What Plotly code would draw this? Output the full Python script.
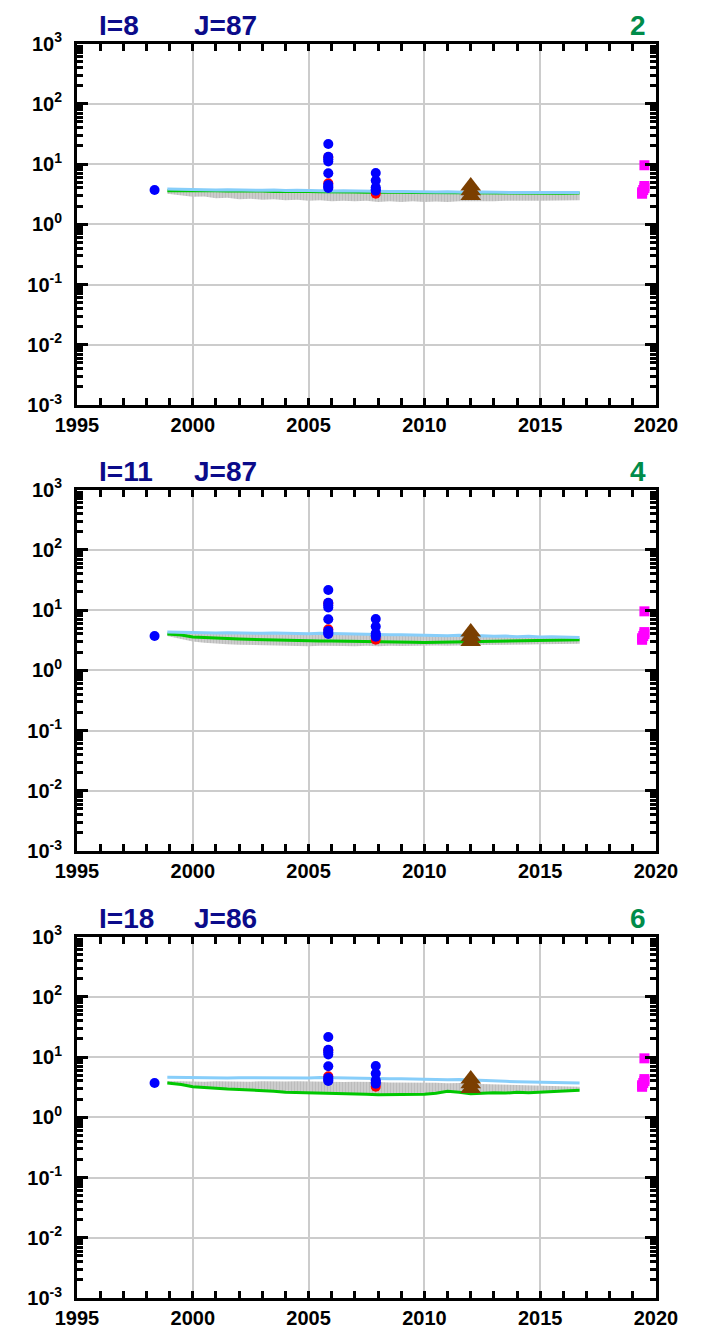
import plotly.graph_objects as go

# ---------------- data ----------------
YEARS = [1998.9, 1999.5, 2000.0, 2000.5, 2001.0, 2001.5, 2002.0, 2002.5, 2003.0,
         2003.5, 2004.0, 2004.5, 2005.0, 2005.5, 2006.0, 2006.5, 2007.0, 2007.5,
         2008.0, 2008.5, 2009.0, 2009.5, 2010.0, 2010.5, 2011.0, 2011.5, 2012.0,
         2012.5, 2013.0, 2013.5, 2014.0, 2014.5, 2015.0, 2015.5, 2016.0, 2016.7]

P1_LIGHTBLUE = [3.85, 3.8, 3.75, 3.8, 3.7, 3.75, 3.7, 3.72, 3.65, 3.7, 3.62, 3.65,
                3.6, 3.62, 3.55, 3.6, 3.55, 3.5, 3.55, 3.48, 3.5, 3.45, 3.45, 3.42,
                3.45, 3.4, 3.38, 3.42, 3.38, 3.4, 3.35, 3.38, 3.35, 3.38, 3.35, 3.35]
P1_GREEN = [3.6, 3.62, 3.6, 3.58, 3.6, 3.55, 3.57, 3.52, 3.55, 3.5, 3.52, 3.48,
            3.5, 3.45, 3.47, 3.42, 3.44, 3.4, 3.42, 3.38, 3.4, 3.36, 3.35, 3.33,
            3.36, 3.32, 3.3, 3.33, 3.3, 3.32, 3.28, 3.3, 3.28, 3.3, 3.28, 3.3]
P1_BAND_LO = [3.2, 3.0, 2.85, 2.9, 2.7, 2.75, 2.6, 2.65, 2.55, 2.6, 2.5, 2.55,
              2.45, 2.5, 2.42, 2.45, 2.4, 2.45, 2.35, 2.4, 2.35, 2.4, 2.35, 2.38,
              2.35, 2.4, 2.38, 2.42, 2.4, 2.45, 2.42, 2.45, 2.45, 2.48, 2.45, 2.5]
P1_BAND_HI = [3.6, 3.6, 3.58, 3.58, 3.56, 3.55, 3.55, 3.52, 3.52, 3.5, 3.5, 3.48,
              3.47, 3.45, 3.45, 3.42, 3.42, 3.4, 3.4, 3.38, 3.38, 3.36, 3.35, 3.33,
              3.33, 3.32, 3.3, 3.31, 3.3, 3.3, 3.28, 3.28, 3.28, 3.28, 3.27, 3.28]

P2_LIGHTBLUE = [4.3, 4.25, 4.2, 4.25, 4.15, 4.2, 4.15, 4.18, 4.1, 4.15, 4.1, 4.12,
                4.05, 4.1, 4.05, 4.0, 4.02, 3.95, 3.95, 3.9, 3.9, 3.85, 3.8, 3.85,
                3.75, 3.8, 3.7, 3.72, 3.65, 3.7, 3.6, 3.65, 3.55, 3.6, 3.55, 3.5]
P2_GREEN = [4.0, 3.85, 3.55, 3.45, 3.4, 3.35, 3.3, 3.25, 3.2, 3.18, 3.15, 3.12,
            3.08, 3.05, 3.05, 3.02, 3.0, 3.0, 2.95, 2.95, 2.92, 2.92, 2.9, 2.92,
            2.9, 2.95, 2.95, 2.98, 3.0, 3.02, 3.05, 3.08, 3.1, 3.12, 3.15, 3.2]
P2_BAND_LO = [3.7, 3.3, 3.0, 2.85, 2.75, 2.7, 2.65, 2.62, 2.6, 2.58, 2.55, 2.55,
              2.5, 2.55, 2.5, 2.52, 2.5, 2.55, 2.5, 2.55, 2.52, 2.55, 2.52, 2.58,
              2.55, 2.6, 2.6, 2.62, 2.62, 2.65, 2.65, 2.68, 2.7, 2.72, 2.72, 2.75]
P2_BAND_HI = [4.2, 4.15, 4.1, 4.12, 4.05, 4.08, 4.02, 4.05, 3.98, 4.0, 3.95, 3.98,
              3.92, 3.95, 3.9, 3.88, 3.88, 3.82, 3.82, 3.78, 3.78, 3.72, 3.7, 3.72,
              3.65, 3.68, 3.6, 3.62, 3.55, 3.58, 3.5, 3.52, 3.45, 3.48, 3.45, 3.4]

P3_LIGHTBLUE = [4.6, 4.55, 4.55, 4.5, 4.55, 4.5, 4.52, 4.5, 4.55, 4.5, 4.52, 4.55,
                4.5, 4.55, 4.5, 4.45, 4.5, 4.4, 4.42, 4.35, 4.35, 4.3, 4.25, 4.28,
                4.2, 4.25, 4.15, 4.1, 4.0, 3.95, 3.9, 3.85, 3.8, 3.8, 3.75, 3.7]
P3_GREEN = [3.7, 3.5, 3.2, 3.1, 3.0, 2.95, 2.9, 2.85, 2.75, 2.7, 2.6, 2.58,
            2.5, 2.48, 2.45, 2.45, 2.42, 2.4, 2.36, 2.38, 2.35, 2.38, 2.4, 2.5,
            2.7, 2.6, 2.45, 2.5, 2.55, 2.52, 2.6, 2.55, 2.6, 2.65, 2.7, 2.8]
P3_BAND_LO = [3.7, 3.5, 3.2, 3.1, 3.0, 2.95, 2.9, 2.85, 2.75, 2.7, 2.6, 2.58,
              2.5, 2.48, 2.45, 2.45, 2.42, 2.4, 2.36, 2.38, 2.35, 2.38, 2.4, 2.5,
              2.7, 2.6, 2.45, 2.5, 2.55, 2.52, 2.6, 2.55, 2.6, 2.65, 2.7, 2.8]
P3_BAND_HI = [4.0, 3.95, 3.95, 3.9, 3.95, 3.9, 3.92, 3.9, 3.95, 3.9, 3.92, 3.95,
              3.9, 3.95, 3.9, 3.85, 3.9, 3.82, 3.84, 3.78, 3.78, 3.74, 3.7, 3.72,
              3.65, 3.7, 3.6, 3.56, 3.48, 3.44, 3.4, 3.35, 3.3, 3.3, 3.26, 3.22]

# observations (same in every panel)
OBS_BLUE_X = [1998.35, 2005.85, 2005.85, 2005.85, 2005.85, 2005.85, 2005.85, 2005.85,
              2005.85, 2007.9, 2007.9, 2007.9, 2007.9, 2007.9]
OBS_BLUE_Y = [3.7, 21.5, 13.2, 12.0, 11.0, 7.0, 4.5, 4.2, 4.0, 7.1, 5.3, 4.1, 3.8, 3.6]
OBS_RED_X = [2005.85, 2005.85, 2007.9]
OBS_RED_Y = [13.0, 4.8, 3.2]
TRI_X = [2012.0, 2012.0, 2012.0]
TRI_Y = [4.3, 3.6, 3.0]
SQ_X = [2019.5, 2019.5, 2019.5, 2019.45, 2019.4, 2019.4]
SQ_Y = [9.5, 4.3, 4.0, 3.7, 3.4, 3.2]

PANEL_I = ["I=8", "I=11", "I=18"]
PANEL_J = ["J=87", "J=87", "J=86"]
PANEL_NUM = ["2", "4", "6"]

PANELS = [
    (P1_LIGHTBLUE, P1_GREEN, P1_BAND_LO, P1_BAND_HI),
    (P2_LIGHTBLUE, P2_GREEN, P2_BAND_LO, P2_BAND_HI),
    (P3_LIGHTBLUE, P3_GREEN, P3_BAND_LO, P3_BAND_HI),
]

Y_TICKVALS = [1e-3, 1e-2, 1e-1, 1, 10, 100, 1000]
Y_TICKTEXT = ["10<sup>-3</sup>", "10<sup>-2</sup>", "10<sup>-1</sup>", "10<sup>0</sup>",
              "10<sup>1</sup>", "10<sup>2</sup>", "10<sup>3</sup>"]
X_TICKVALS = [1995, 2000, 2005, 2010, 2015, 2020]
X_MINOR_TICKS = list(range(1995, 2021))
Y_MINOR_TICKS = [m * 10.0 ** e for e in range(-3, 3) for m in range(2, 10)]

# ---------------- layout geometry (page pixels; page has 8px body margin) ----------------
OFF = 8
W, H = 704 - OFF, 1333 - OFF
LEFT, RIGHT = 77 - OFF, 656 - OFF
TOPS = [t - OFF for t in (43.5, 489.5, 936.5)]
BOTTOMS = [b - OFF for b in (405, 851, 1298)]

FONT = "Liberation Sans, Arial, sans-serif"
TITLE_COLOR = "#0b0b8a"
NUM_COLOR = "#008c4a"

fig = go.Figure()
annotations = []

for k, (lb, gr, lo, hi) in enumerate(PANELS):
    n = "" if k == 0 else str(k + 1)
    xa, ya = "x" + n, "y" + n
    fig.add_trace(go.Scatter(x=YEARS, y=lo, mode="lines", line=dict(width=0, color="#c4c4c4"),
                             xaxis=xa, yaxis=ya, showlegend=False, hoverinfo="skip"))
    fig.add_trace(go.Scatter(x=YEARS, y=hi, mode="lines", line=dict(width=0, color="#c4c4c4"),
                             fill="tonexty", fillcolor="#c4c4c4",
                             fillpattern=dict(shape="|", fgcolor="#ababab", bgcolor="#cdcdcd",
                                              size=3, solidity=0.4),
                             xaxis=xa, yaxis=ya, showlegend=False, hoverinfo="skip"))
    fig.add_trace(go.Scatter(x=YEARS, y=gr, mode="lines", line=dict(width=3, color="#00c800"),
                             xaxis=xa, yaxis=ya, showlegend=False))
    fig.add_trace(go.Scatter(x=YEARS, y=lb, mode="lines", line=dict(width=3, color="#87cefa"),
                             xaxis=xa, yaxis=ya, showlegend=False))
    fig.add_trace(go.Scatter(x=OBS_RED_X, y=OBS_RED_Y, mode="markers",
                             marker=dict(size=10, color="#ff0000", symbol="circle"),
                             xaxis=xa, yaxis=ya, showlegend=False))
    fig.add_trace(go.Scatter(x=OBS_BLUE_X, y=OBS_BLUE_Y, mode="markers",
                             marker=dict(size=10, color="#0000ff", symbol="circle"),
                             xaxis=xa, yaxis=ya, showlegend=False))
    fig.add_trace(go.Scatter(x=TRI_X, y=TRI_Y, mode="markers",
                             marker=dict(size=18, color="#7b3f00", symbol="triangle-up"),
                             xaxis=xa, yaxis=ya, showlegend=False))
    fig.add_trace(go.Scatter(x=SQ_X, y=SQ_Y, mode="markers",
                             marker=dict(size=10, color="#ff00ff", symbol="square"),
                             xaxis=xa, yaxis=ya, showlegend=False))

    ydom = [1 - BOTTOMS[k] / H, 1 - TOPS[k] / H]
    tickfont = dict(family=FONT, size=20, color="black", weight="bold")
    xaxis = dict(domain=[0, 1], range=[1995, 2020], anchor=ya,
                 tickvals=X_TICKVALS, ticktext=[str(v) for v in X_TICKVALS],
                 ticks="inside", ticklen=7, tickwidth=3, tickcolor="black",
                 showline=True, linewidth=3, linecolor="black", mirror="ticks",
                 showgrid=True, gridcolor="#cccccc", gridwidth=2, zeroline=False,
                 tickfont=tickfont, automargin=False, fixedrange=True)
    yaxis = dict(domain=ydom, type="log", range=[-3, 3], anchor=xa,
                 tickvals=Y_TICKVALS, ticktext=Y_TICKTEXT,
                 ticks="inside", ticklen=11, tickwidth=3, tickcolor="black",
                 showline=True, linewidth=3, linecolor="black", mirror="ticks",
                 showgrid=True, gridcolor="#cccccc", gridwidth=2, zeroline=False,
                 tickfont=tickfont, ticklabelstandoff=8,
                 automargin=False, fixedrange=True)
    fig.layout["xaxis" + n] = xaxis
    fig.layout["yaxis" + n] = yaxis

    # overlay axes carrying the minor ticks
    m = str(k + 4)
    fig.layout["xaxis" + m] = dict(overlaying=xa, anchor=ya, side="bottom", range=[1995, 2020],
                                   tickvals=X_MINOR_TICKS, showticklabels=False,
                                   ticks="inside", ticklen=7, tickwidth=3, tickcolor="black",
                                   showline=True, linewidth=3, linecolor="black", mirror="ticks",
                                   showgrid=False, zeroline=False, fixedrange=True)
    fig.layout["yaxis" + m] = dict(overlaying=ya, anchor=xa, side="left", type="log", range=[-3, 3],
                                   tickvals=Y_MINOR_TICKS, showticklabels=False,
                                   ticks="inside", ticklen=6, tickwidth=3, tickcolor="black",
                                   showline=True, linewidth=3, linecolor="black", mirror="ticks",
                                   showgrid=False, zeroline=False, fixedrange=True)
    fig.add_trace(go.Scatter(x=[None], y=[None], mode="markers", xaxis="x" + m, yaxis="y" + m,
                             showlegend=False, hoverinfo="skip"))

    # title row: box top sits 35.5 px above the panel frame (inside the figure)
    ty = 1 - (TOPS[k] - 35.5) / H
    pw = RIGHT - LEFT
    tfont = dict(family=FONT, size=28, weight="bold")
    annotations.append(dict(text=PANEL_I[k], x=(97 - OFF - LEFT) / pw, y=ty, xref="paper", yref="paper",
                            xanchor="left", yanchor="top", showarrow=False,
                            font=dict(tfont, color=TITLE_COLOR)))
    annotations.append(dict(text=PANEL_J[k], x=(192 - OFF - LEFT) / pw, y=ty, xref="paper", yref="paper",
                            xanchor="left", yanchor="top", showarrow=False,
                            font=dict(tfont, color=TITLE_COLOR)))
    annotations.append(dict(text=PANEL_NUM[k], x=(648 - OFF - LEFT) / pw, y=ty, xref="paper", yref="paper",
                            xanchor="right", yanchor="top", showarrow=False,
                            font=dict(tfont, color=NUM_COLOR)))

fig.update_layout(width=W, height=H,
                  margin=dict(l=LEFT, r=W - RIGHT, t=0, b=0, autoexpand=False),
                  paper_bgcolor="white", plot_bgcolor="white",
                  showlegend=False, annotations=annotations)

fig.write_html("out.html")
